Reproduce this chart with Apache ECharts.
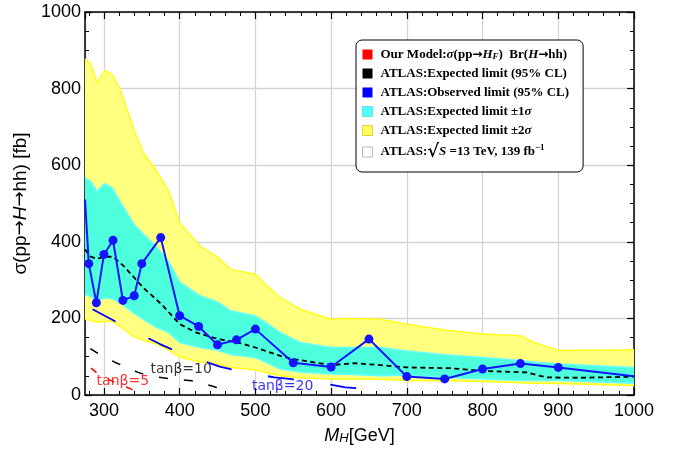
<!DOCTYPE html>
<html>
<head>
<meta charset="utf-8">
<script src="https://cdn.jsdelivr.net/npm/echarts@6/dist/echarts.min.js"></script>
<style>
html, body {margin:0; padding:0; background:#fff;}
#main {width:683px; height:450px;}
</style>
</head>
<body>
<div id="main"></div>
<script>
// ATLAS expected bands, on one common mass grid (GeV)
let bandX   = [275, 282, 291, 301, 311, 322, 340, 353, 368, 385, 400, 427, 450, 467, 500, 511, 533, 559, 600, 621, 665, 700, 750, 800, 850, 868, 900, 1000];
let yelHi   = [877, 866, 815, 847, 837, 795, 690, 630, 590, 535, 450, 389, 360, 328, 315, 293, 254, 224, 198, 200, 198, 185, 170, 159, 155, 137, 116, 118];
let yelLo   = [198, 195, 190, 192, 193, 178, 152, 142, 134, 118,  99,  86,  80,  72,  66,  60,  50,  45,  42,  42,  41,  38,  37,  35,  32,  31,  30,  25];
let cyanHi  = [567, 558, 532, 552, 541, 502, 445, 418, 390, 350, 295, 259, 243, 220, 206, 193, 163, 137, 124, 124, 124, 115, 105,  98,  90,  86,  81,  72];
let cyanLo  = [263, 258, 246, 254, 252, 240, 213, 196, 178, 164, 137, 124, 117, 106,  98,  88,  68,  60,  55,  54,  50,  52,  46,  42,  38,  38,  38,  31];

// ATLAS expected limit (dashed)
let expX = [275, 282, 290, 303, 312, 326, 352, 376, 400, 422, 451, 477, 500, 533, 550, 600, 630, 665, 700, 757, 800, 858, 884, 930, 1000];
let expY = [380, 362, 356, 361, 361, 337, 280, 237, 185, 163, 146, 137, 124, 102,  94,  78,  83,  78,  72,  70,  63,  59,  46,  45,  48];

// ATLAS observed limit
let obsX = [275, 280, 290, 300, 312, 325, 340, 350, 375, 400, 425, 450, 475, 500, 550, 600, 650, 700, 750, 800, 850, 900, 1000];
let obsY = [510, 343, 241, 367, 404, 247, 259, 343, 411, 207, 179, 131, 144, 172,  84,  73, 146,  48,  42,  68,  82,  72,  49];

// our model, sigma x Br for three tan(beta)
let tb5X  = [283, 291, 310, 335, 345];
let tb5Y  = [70, 57, 37, 16, 7];
let tb10X = [282, 290, 315, 330, 345, 359, 385, 416, 427, 448, 456];
let tb10Y = [121, 111, 85, 72, 59, 50, 43, 37, 33, 20, 16];
let tb20X = [285, 322, 374, 404, 453, 477, 525, 545, 599, 619, 654, 665];
let tb20Y = [224, 185, 133, 107, 74, 63, 46, 42, 27, 20, 15, 11];

let tanLabels = ['tanβ=5', 'tanβ=10', 'tanβ=20'];
let tanLabelX = [325, 402, 536];
let tanLabelY = [36, 68, 23];
let tanColors = ['#ff0000', '#000000', '#0000ff'];

let legendText = {
    model: 'Our Model:{i|σ}(pp{a|→}{i|H}{sub|F})  Br({i|H}{a|→}hh)',
    exp: 'ATLAS:Expected limit (95% CL)',
    obs: 'ATLAS:Observed limit (95% CL)',
    band1: 'ATLAS:Expected limit ±1{i|σ}',
    band2: 'ATLAS:Expected limit ±2{i|σ}',
    atlas: 'ATLAS:{sq|√}{i|S} =13 TeV, 139 fb{sup|−1}'
};

function pairs(xs, ys){
    return xs.map((x, i) => [x, ys[i]]);
}

// categories every 5 GeV, only used to place the minor ticks
let minorCats = [];
for (let m = 275; m <= 1000; m += 5) minorCats.push(String(m));

function bandFill(lo, hi, fill){
    return {
        type: 'custom', silent: true,
        data: bandX.map((x, i) => [x, lo[i], hi[i]]),
        encode: {x: 0, y: [1, 2]},
        renderItem: (params, api) => {
            if (params.dataIndex !== 0) return null;
            let top = bandX.map((x, i) => api.coord([x, hi[i]]));
            let bot = bandX.map((x, i) => api.coord([x, lo[i]])).reverse();
            return {type: 'polygon', shape: {points: top.concat(bot)}, style: {fill: fill}};
        }
    };
}

function edge(ys, color){
    return {
        type: 'line', data: pairs(bandX, ys), symbol: 'none', silent: true,
        lineStyle: {color: color, width: 1.5}
    };
}

function modelLine(name, xs, ys, color, dash, width){
    return {
        type: 'line', name: name, data: pairs(xs, ys), symbol: 'none',
        lineStyle: {color: color, width: width, type: dash}
    };
}

let labelData = tanLabels.map((t, i) => ({
    value: [tanLabelX[i], tanLabelY[i]],
    label: {show: true, formatter: t, color: tanColors[i], position: 'inside',
            fontFamily: 'DejaVu Sans', fontSize: 14}
}));

let serif = 'Liberation Serif';
let sans = 'Liberation Sans';

let tickStyle = {show: true, inside: true, length: 7, lineStyle: {color: '#000', width: 1.2}};
let lineAx = {show: true, lineStyle: {color: '#000', width: 1.5}};

let option = {
    animation: false,
    grid: {left: 85, right: 49, top: 12, bottom: 54},
    legend: {
        left: 356, top: 40, orient: 'vertical', selectedMode: false,
        backgroundColor: '#fff', borderColor: '#000', borderWidth: 1, borderRadius: 6,
        padding: [8, 14, 11, 6], itemGap: 6, itemWidth: 10, itemHeight: 10, icon: 'rect',
        data: [
            {name: 'model', itemStyle: {color: '#ff0000', borderWidth: 0}},
            {name: 'exp', itemStyle: {color: '#000000', borderWidth: 0}},
            {name: 'obs', itemStyle: {color: '#0000ff', borderWidth: 0}},
            {name: 'band1', itemStyle: {color: '#55ffff', borderColor: '#44dddd', borderWidth: 0.8}},
            {name: 'band2', itemStyle: {color: '#ffff55', borderColor: '#cccc33', borderWidth: 0.8}},
            {name: 'atlas', itemStyle: {color: '#ffffff', borderColor: '#bbbbbb', borderWidth: 1}}
        ],
        formatter: name => legendText[name],
        textStyle: {
            fontFamily: serif, fontWeight: 'bold', fontSize: 13, color: '#000',
            padding: [0, 0, 0, 3],
            rich: {
                i: {fontFamily: serif, fontWeight: 'bold', fontStyle: 'italic', fontSize: 13},
                a: {fontFamily: 'DejaVu Sans', fontWeight: 'bold', fontSize: 12},
                sub: {fontFamily: serif, fontWeight: 'bold', fontStyle: 'italic', fontSize: 9, verticalAlign: 'bottom'},
                sup: {fontFamily: serif, fontWeight: 'bold', fontSize: 9, verticalAlign: 'top'},
                sq: {fontFamily: 'DejaVu Serif', fontSize: 18}
            }
        }
    },
    xAxis: [{
        type: 'value', min: 275, max: 1000, splitNumber: 7, position: 'bottom',
        axisLine: lineAx, axisTick: tickStyle,
        axisLabel: {showMinLabel: false, color: '#000', fontFamily: sans, fontSize: 18, margin: 7,
                    formatter: v => String(v)},
        splitLine: {show: true, lineStyle: {color: '#d4d4d4', width: 1.3}},
        name: '{i|M}{sub|H}[GeV]', nameLocation: 'middle', nameGap: 32,
        nameTextStyle: {
            color: '#000', fontFamily: sans, fontSize: 18,
            rich: {
                i: {fontFamily: sans, fontStyle: 'italic', fontSize: 18},
                sub: {fontFamily: sans, fontStyle: 'italic', fontSize: 13, verticalAlign: 'bottom'}
            }
        }
    }, {
        type: 'category', data: minorCats, boundaryGap: false, position: 'bottom',
        axisLine: {show: false}, axisLabel: {show: false}, splitLine: {show: false},
        axisTick: {show: true, inside: true, length: 4, lineStyle: {color: '#000', width: 1},
                   interval: (i, v) => (+v) % 20 === 0}
    }, {
        type: 'value', min: 275, max: 1000, splitNumber: 7, position: 'top',
        axisLine: lineAx, axisTick: tickStyle, axisLabel: {show: false}, splitLine: {show: false}
    }, {
        type: 'category', data: minorCats, boundaryGap: false, position: 'top',
        axisLine: {show: false}, axisLabel: {show: false}, splitLine: {show: false},
        axisTick: {show: true, inside: true, length: 4, lineStyle: {color: '#000', width: 1},
                   interval: (i, v) => (+v) % 20 === 0}
    }],
    yAxis: [{
        type: 'value', min: 0, max: 1000, interval: 200, position: 'left',
        axisLine: lineAx, axisTick: tickStyle,
        minorTick: {show: true, splitNumber: 4, length: 4, lineStyle: {color: '#000', width: 1}},
        axisLabel: {color: '#000', fontFamily: sans, fontSize: 18, margin: 4, formatter: v => String(v)},
        splitLine: {show: true, lineStyle: {color: '#d4d4d4', width: 1.3}},
        name: 'σ(pp{a|→}{i|H}{a|→}hh) [fb]', nameLocation: 'middle', nameGap: 51, nameRotate: 90,
        nameTextStyle: {
            color: '#000', fontFamily: sans, fontSize: 19,
            rich: {
                i: {fontFamily: sans, fontStyle: 'italic', fontSize: 19},
                a: {fontFamily: 'DejaVu Sans', fontSize: 18}
            }
        }
    }, {
        type: 'value', min: 0, max: 1000, interval: 200, position: 'right',
        axisLine: lineAx, axisTick: tickStyle,
        minorTick: {show: true, splitNumber: 4, length: 4, lineStyle: {color: '#000', width: 1}},
        axisLabel: {show: false}, splitLine: {show: false}
    }],
    series: [
        bandFill(yelLo, yelHi, '#ffff80'),
        edge(yelHi, '#ffff1a'),
        edge(yelLo, '#ffff1a'),
        bandFill(cyanLo, cyanHi, '#4dffdc'),
        edge(cyanHi, '#66ffff'),
        edge(cyanLo, '#66ffff'),
        {
            type: 'line', name: 'exp', data: pairs(expX, expY), symbol: 'none',
            lineStyle: {color: '#000', width: 1.8, type: [5, 3.5]}
        },
        modelLine('model', tb5X, tb5Y, '#ff0000', [7, 13], 1.5),
        modelLine('tb10', tb10X, tb10Y, '#000000', [9, 16], 1.5),
        modelLine('tb20', tb20X, tb20Y, '#0000ff', [26, 37], 1.8),
        {
            type: 'line', name: 'obs', data: pairs(obsX, obsY).map((p, i) =>
                (i === 0 || i === obsX.length - 1) ? {value: p, symbol: 'none'} : p),
            symbol: 'circle', symbolSize: 9,
            itemStyle: {color: '#1414ff'}, lineStyle: {color: '#1414ff', width: 2}
        },
        {type: 'line', name: 'band1', data: []},
        {type: 'line', name: 'band2', data: []},
        {type: 'line', name: 'atlas', data: []},
        {type: 'scatter', data: labelData, symbolSize: 0, silent: true}
    ]
};

let chart = echarts.init(document.getElementById('main'));
chart.setOption(option);
</script>
</body>
</html>
